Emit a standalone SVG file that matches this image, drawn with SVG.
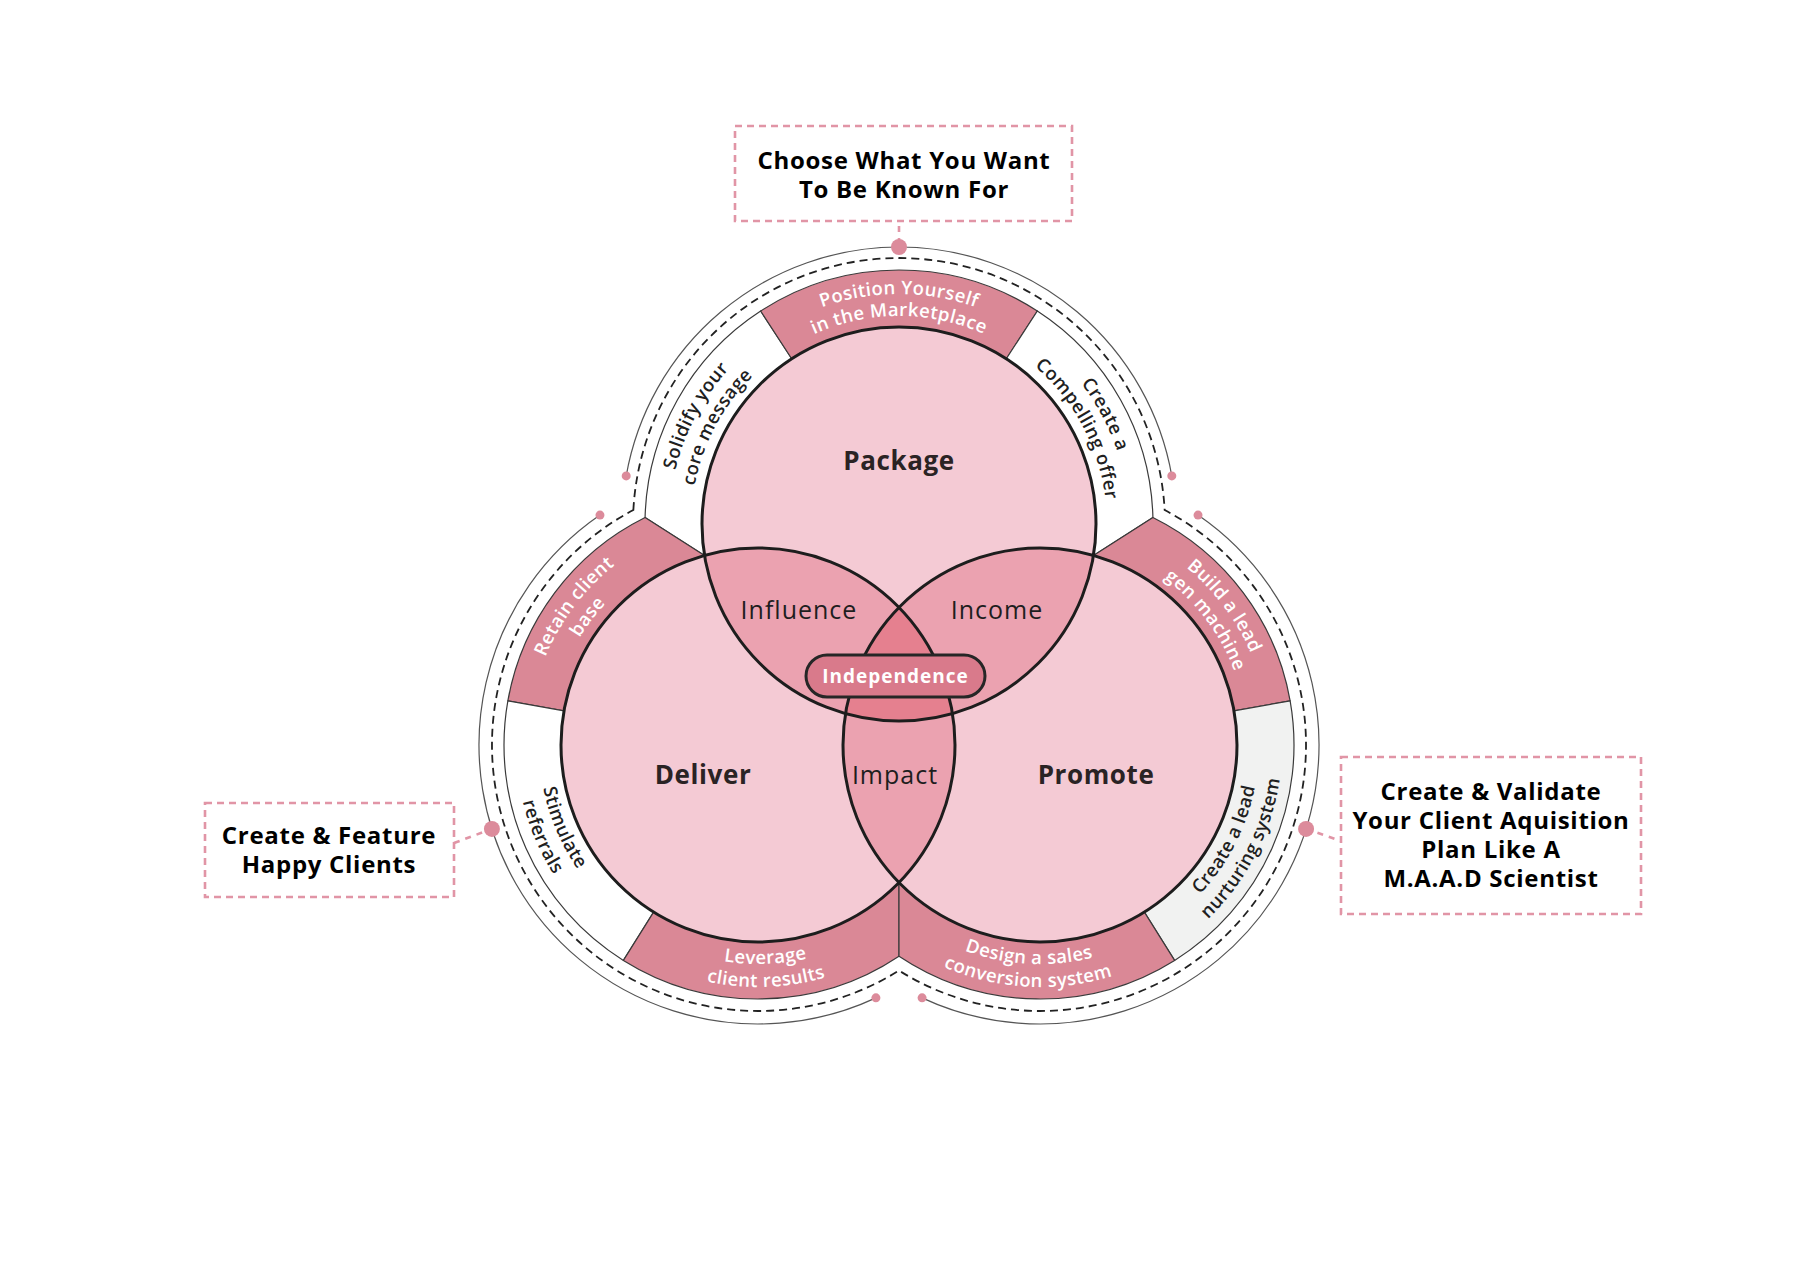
<svg xmlns="http://www.w3.org/2000/svg" width="1818" height="1264" viewBox="0 0 1818 1264">
<style>
.circ{stroke:#1d1d1d;stroke-width:3;fill:none}
.seg{stroke:#3a3a3a;stroke-width:1.2;stroke-linejoin:round}
.pink{fill:#da8896}
.white{fill:#ffffff}
.gray{fill:#f1f2f1}
.base{fill:#f4cad4}
.lens{fill:#eba2b0}
.triple{fill:#e5808f}
.title{font-family:'Open Sans','Liberation Sans',sans-serif;font-weight:700;font-size:26px;fill:#2a2324;letter-spacing:0.6px;text-anchor:middle}
.inter{font-family:'Open Sans','Liberation Sans',sans-serif;font-weight:400;font-size:25px;fill:#1e1e1e;letter-spacing:1px;text-anchor:middle}
.band{font-family:'Open Sans','Liberation Sans',sans-serif;font-weight:600;font-size:18.5px;letter-spacing:0.4px}
.bw{fill:#ffffff}
.bd{fill:#1f1f1f}
.box{fill:none;stroke:#e195a6;stroke-width:2.6;stroke-dasharray:7 5}
.boxt{font-family:'Open Sans','Liberation Sans',sans-serif;font-weight:700;font-size:24px;fill:#000;letter-spacing:0.7px;text-anchor:middle}
.conn{fill:none;stroke:#e195a6;stroke-width:2.6;stroke-dasharray:6 6}
.dash{fill:none;stroke:#222;stroke-width:1.8;stroke-dasharray:8 5}
.thin{fill:none;stroke:#555;stroke-width:1.2}
.dot{fill:#dc8b9b}
</style>
<defs>
<clipPath id="cP"><circle cx="899" cy="524" r="197"/></clipPath>
<clipPath id="cD"><circle cx="758" cy="745" r="197"/></clipPath>
<path id="tpPos1" d="M 699.81 409 A 230 230 0 0 1 1098.19 409"/>
<path id="tpPos2" d="M 718.87 420 A 208 208 0 0 1 1079.13 420"/>
<path id="tpSol1" d="M 703.95 645.88 A 230 230 0 0 1 890.97 294.14"/>
<path id="tpSol2" d="M 722.61 634.22 A 208 208 0 0 1 891.74 316.13"/>
<path id="tpCom1" d="M 907.03 294.14 A 230 230 0 0 1 1094.05 645.88"/>
<path id="tpCom2" d="M 906.26 316.13 A 208 208 0 0 1 1075.39 634.22"/>
<path id="tpRet1" d="M 546.28 834.87 A 230 230 0 0 1 786.03 516.71"/>
<path id="tpRet2" d="M 566.54 826.27 A 208 208 0 0 1 783.35 538.55"/>
<path id="tpBui1" d="M 1011.97 516.71 A 230 230 0 0 1 1251.72 834.87"/>
<path id="tpBui2" d="M 1014.65 538.55 A 208 208 0 0 1 1231.46 826.27"/>
<path id="tpSti1" d="M 583.10 613.20 A 219 219 0 0 0 731.31 962.37"/>
<path id="tpSti2" d="M 564.73 599.36 A 242 242 0 0 0 728.51 985.20"/>
<path id="tpNur1" d="M 1051.46 963.70 A 219 219 0 0 0 1223.67 625.72"/>
<path id="tpNur2" d="M 1052.67 986.67 A 242 242 0 0 0 1242.96 613.20"/>
<path id="tpLev1" d="M 572.28 861.05 A 219 219 0 0 0 951.37 847.81"/>
<path id="tpLev2" d="M 552.77 873.24 A 242 242 0 0 0 971.67 858.61"/>
<path id="tpDes1" d="M 844.87 844.42 A 219 219 0 0 0 1223.67 864.28"/>
<path id="tpDes2" d="M 824.38 854.87 A 242 242 0 0 0 1242.96 876.80"/>
</defs>
<rect x="0" y="0" width="1818" height="1264" fill="#ffffff"/>

<g id="band-segments">
<path id="seg-solidify" class="seg white" d="M 704.52 555.40 L 645.08 517.48 A 254 254 0 0 1 760.66 310.98 L 791.71 358.78 A 197 197 0 0 0 704.52 555.40 Z"/>
<path id="seg-position" class="seg pink" d="M 791.71 358.78 L 760.66 310.98 A 254 254 0 0 1 1037.34 310.98 L 1006.29 358.78 A 197 197 0 0 0 791.71 358.78 Z"/>
<path id="seg-compelling" class="seg white" d="M 1093.48 555.40 L 1152.92 517.48 A 254 254 0 0 0 1037.34 310.98 L 1006.29 358.78 A 197 197 0 0 1 1093.48 555.40 Z"/>
<path id="seg-retain" class="seg pink" d="M 645.08 517.48 A 254 254 0 0 0 507.86 700.89 L 563.99 710.79 A 197 197 0 0 1 704.52 555.40 Z"/>
<path id="seg-stimulate" class="seg white" d="M 507.86 700.89 A 254 254 0 0 0 623.40 960.40 L 653.61 912.07 A 197 197 0 0 1 563.99 710.79 Z"/>
<path id="seg-leverage" class="seg pink" d="M 623.40 960.40 A 254 254 0 0 0 899 956.27 L 899 882.58 A 197 197 0 0 1 653.61 912.07 Z"/>
<path id="seg-build" class="seg pink" d="M 1152.92 517.48 A 254 254 0 0 1 1290.14 700.89 L 1234.01 710.79 A 197 197 0 0 0 1093.48 555.40 Z"/>
<path id="seg-nurturing" class="seg gray" d="M 1290.14 700.89 A 254 254 0 0 1 1174.60 960.40 L 1144.39 912.07 A 197 197 0 0 0 1234.01 710.79 Z"/>
<path id="seg-design" class="seg pink" d="M 1174.60 960.40 A 254 254 0 0 1 899 956.27 L 899 882.58 A 197 197 0 0 0 1144.39 912.07 Z"/>
</g>

<g id="circle-fills">
<circle class="base" cx="899" cy="524" r="197"/>
<circle class="base" cx="758" cy="745" r="197"/>
<circle class="base" cx="1040" cy="745" r="197"/>
<circle class="lens" cx="758" cy="745" r="197" clip-path="url(#cP)"/>
<circle class="lens" cx="1040" cy="745" r="197" clip-path="url(#cP)"/>
<circle class="lens" cx="1040" cy="745" r="197" clip-path="url(#cD)"/>
<g clip-path="url(#cD)"><circle class="triple" cx="1040" cy="745" r="197" clip-path="url(#cP)"/></g>
</g>

<g id="node-package"><circle class="circ" cx="899" cy="524" r="197"/><text class="title" x="899" y="470">Package</text></g>
<g id="node-deliver"><circle class="circ" cx="758" cy="745" r="197"/><text class="title" x="703" y="784">Deliver</text></g>
<g id="node-promote"><circle class="circ" cx="1040" cy="745" r="197"/><text class="title" x="1096" y="784">Promote</text></g>

<g id="node-influence"><text class="inter" x="799" y="619">Influence</text></g>
<g id="node-income"><text class="inter" x="997" y="619">Income</text></g>
<g id="node-impact"><text class="inter" x="895" y="784">Impact</text></g>
<g id="node-independence">
<rect x="806" y="655" width="179" height="42" rx="21" fill="#d97a8b" stroke="#262626" stroke-width="3"/>
<text x="895.5" y="683" font-family="'Open Sans','Liberation Sans',sans-serif" font-weight="700" font-size="19" letter-spacing="1" fill="#ffffff" text-anchor="middle">Independence</text>
</g>

<g id="band-labels">
<text class="band bw"><textPath href="#tpPos1" startOffset="50%" text-anchor="middle">Position Yourself</textPath></text>
<text class="band bw"><textPath href="#tpPos2" startOffset="50%" text-anchor="middle">in the Marketplace</textPath></text>
<text class="band bd"><textPath href="#tpSol1" startOffset="50%" text-anchor="middle">Solidify your</textPath></text>
<text class="band bd"><textPath href="#tpSol2" startOffset="50%" text-anchor="middle">core message</textPath></text>
<text class="band bd"><textPath href="#tpCom1" startOffset="50%" text-anchor="middle">Create a</textPath></text>
<text class="band bd"><textPath href="#tpCom2" startOffset="50%" text-anchor="middle">Compelling offer</textPath></text>
<text class="band bw"><textPath href="#tpRet1" startOffset="50%" text-anchor="middle">Retain client</textPath></text>
<text class="band bw"><textPath href="#tpRet2" startOffset="50%" text-anchor="middle">base</textPath></text>
<text class="band bw"><textPath href="#tpBui1" startOffset="50%" text-anchor="middle">Build a lead</textPath></text>
<text class="band bw"><textPath href="#tpBui2" startOffset="50%" text-anchor="middle">gen machine</textPath></text>
<text class="band bd"><textPath href="#tpSti1" startOffset="50%" text-anchor="middle">Stimulate</textPath></text>
<text class="band bd"><textPath href="#tpSti2" startOffset="50%" text-anchor="middle">referrals</textPath></text>
<text class="band bd"><textPath href="#tpNur1" startOffset="50%" text-anchor="middle">Create a lead</textPath></text>
<text class="band bd"><textPath href="#tpNur2" startOffset="50%" text-anchor="middle">nurturing system</textPath></text>
<text class="band bw"><textPath href="#tpLev1" startOffset="50%" text-anchor="middle">Leverage</textPath></text>
<text class="band bw"><textPath href="#tpLev2" startOffset="50%" text-anchor="middle">client results</textPath></text>
<text class="band bw"><textPath href="#tpDes1" startOffset="50%" text-anchor="middle">Design a sales</textPath></text>
<text class="band bw"><textPath href="#tpDes2" startOffset="50%" text-anchor="middle">conversion system</textPath></text>
</g>

<g id="outer-rings">
<path class="dash" d="M 633.37 510.00 A 266 266 0 0 1 1164.63 510.00 A 266 266 0 1 1 899 970.55 A 266 266 0 1 1 633.37 510.00 Z"/>
<path class="thin" d="M 626.21 475.90 A 277 277 0 0 1 1171.79 475.90"/>
<path class="thin" d="M 599.97 515.07 A 279 279 0 0 0 875.91 997.86"/>
<path class="thin" d="M 1198.03 515.07 A 279 279 0 0 1 922.09 997.86"/>
<circle class="dot" cx="626.21" cy="475.90" r="4.5"/>
<circle class="dot" cx="1171.79" cy="475.90" r="4.5"/>
<circle class="dot" cx="599.97" cy="515.07" r="4.5"/>
<circle class="dot" cx="875.91" cy="997.86" r="4.5"/>
<circle class="dot" cx="1198.03" cy="515.07" r="4.5"/>
<circle class="dot" cx="922.09" cy="997.86" r="4.5"/>
</g>

<g id="connectors">
<path class="conn" d="M 899 221 L 899 240" stroke-dashoffset="-5"/>
<path class="conn" d="M 454 843 L 491.91 828.90"/>
<path class="conn" d="M 1306.09 828.90 L 1341 841"/>
<circle class="dot" cx="899" cy="247" r="8"/>
<circle class="dot" cx="491.91" cy="828.90" r="8"/>
<circle class="dot" cx="1306.09" cy="828.90" r="8"/>
</g>

<g id="callout-top">
<rect class="box" x="735" y="126" width="337" height="95"/>
<text class="boxt" x="904" y="169">Choose What You Want</text>
<text class="boxt" x="904" y="198">To Be Known For</text>
</g>
<g id="callout-left">
<rect class="box" x="205" y="803" width="249" height="94"/>
<text class="boxt" x="329" y="844">Create &amp; Feature</text>
<text class="boxt" x="329" y="873">Happy Clients</text>
</g>
<g id="callout-right">
<rect class="box" x="1341" y="757" width="300" height="157"/>
<text class="boxt" x="1491" y="800">Create &amp; Validate</text>
<text class="boxt" x="1491" y="829">Your Client Aquisition</text>
<text class="boxt" x="1491" y="858">Plan Like A</text>
<text class="boxt" x="1491" y="887">M.A.A.D Scientist</text>
</g>
</svg>
